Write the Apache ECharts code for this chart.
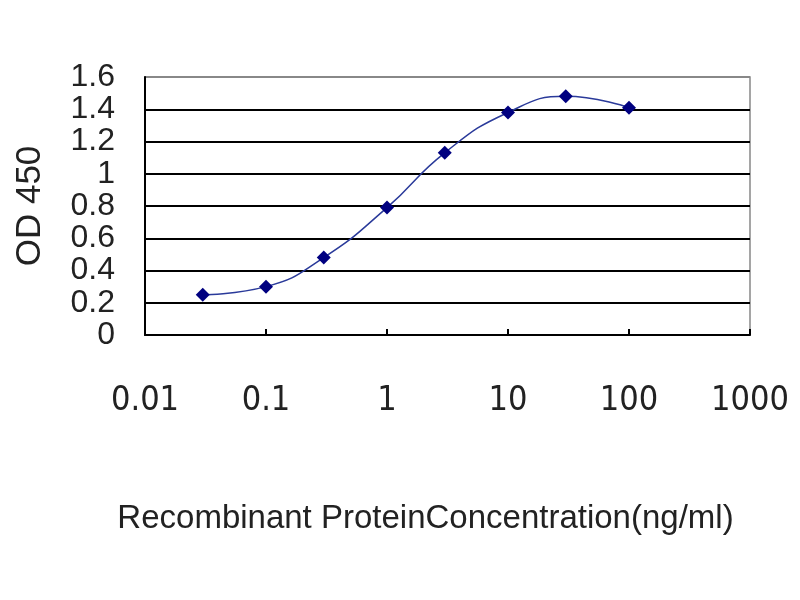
<!DOCTYPE html>
<html>
<head>
<meta charset="utf-8">
<script src="https://cdn.jsdelivr.net/npm/echarts@6/dist/echarts.min.js"></script>
<style>html,body{margin:0;padding:0;background:#fff}#c{width:800px;height:600px}</style>
</head>
<body>
<div id="c"></div>
<script>
const concentrations = [0.03, 0.1, 0.3, 1, 3, 10, 30, 100];
const od450 = [0.25, 0.30, 0.48, 0.79, 1.13, 1.38, 1.48, 1.41];
const xTitle = 'Recombinant ProteinConcentration(ng/ml)';
const yTitle = 'OD 450';

const chart = echarts.init(document.getElementById('c'));
const font = 'Liberation Sans, Arial, sans-serif';
const narrow = '"Liberation Sans Narrow", "Arial Narrow", "DejaVu Sans Condensed", sans-serif';
chart.setOption({
  backgroundColor: '#fff',
  animation: false,
  grid: { left: 145, right: 50, top: 77, bottom: 265, show: true, borderColor: '#888', borderWidth: 1.5 },
  xAxis: {
    type: 'log', logBase: 10, min: 0.01, max: 1000,
    name: xTitle, nameLocation: 'middle', nameGap: 167,
    nameTextStyle: { fontSize: 33, color: '#222', fontFamily: font, padding: [0, 44, 0, 0] },
    axisLine: { lineStyle: { color: '#000', width: 2 } },
    axisTick: { show: true, inside: true, length: 6, lineStyle: { color: '#000', width: 2 } },
    axisLabel: { margin: 49, fontSize: 34, color: '#222', fontFamily: narrow,
      formatter: v => String(v) },
    splitLine: { show: false },
    minorTick: { show: false }
  },
  yAxis: {
    type: 'value', min: 0, max: 1.6, interval: 0.2,
    name: yTitle, nameLocation: 'middle', nameGap: 97, nameRotate: 90,
    nameTextStyle: { fontSize: 35, color: '#222', fontFamily: font },
    axisLine: { show: true, lineStyle: { color: '#000', width: 2 } },
    axisTick: { show: false },
    axisLabel: { margin: 30, fontSize: 32, color: '#222', fontFamily: font },
    splitLine: { show: true, lineStyle: { color: ['#000','#000','#000','#000','#000','#000','#000','#000','#888'], width: 2 } }
  },
  series: [{
    type: 'line',
    data: concentrations.map((c, i) => [c, od450[i]]),
    smooth: true,
    symbol: 'diamond', symbolSize: 14,
    lineStyle: { color: '#2a3a9a', width: 1.5 },
    itemStyle: { color: '#000080' }
  }]
});
</script>
</body>
</html>
